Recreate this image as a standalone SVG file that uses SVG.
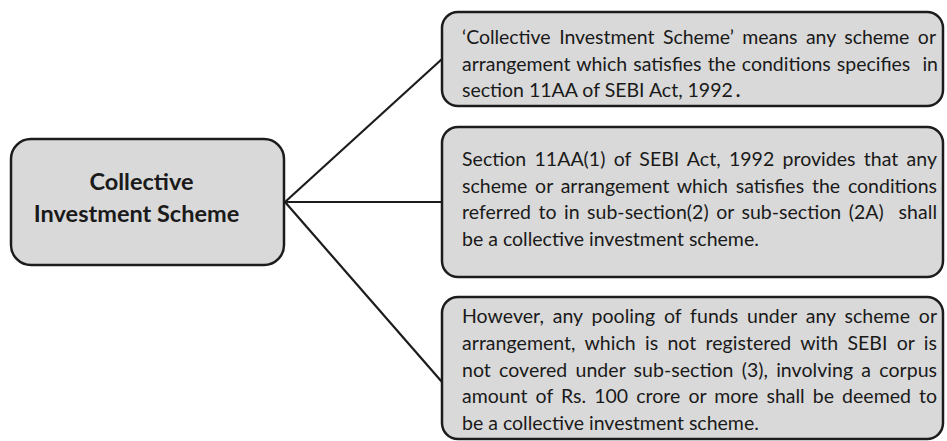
<svg xmlns="http://www.w3.org/2000/svg" width="947" height="441" viewBox="0 0 947 441">
  <style>
    .box { fill: #d9d9d9; stroke: #1c1c1c; stroke-width: 2.5; }
    .link { stroke: #1c1c1c; stroke-width: 2.2; fill: none; }
    .title { font-family: Lato, "Liberation Sans", sans-serif; font-weight: bold; font-size: 23.5px; fill: #1a1a1a; text-anchor: middle; }
    .body { font-family: Lato, "Liberation Sans", sans-serif; font-size: 19.5px; fill: #1a1a1a; }
  </style>
  <rect width="947" height="441" fill="#ffffff"/>

  <!-- connectors from the central box to the three definitions -->
  <g id="connectors">
    <line class="link" x1="285" y1="202" x2="442" y2="59"/>
    <line class="link" x1="285" y1="202" x2="442" y2="202"/>
    <line class="link" x1="285" y1="202" x2="442" y2="382"/>
  </g>

  <g id="cis">
    <rect class="box" x="11" y="139" width="273" height="126" rx="20"/>
    <text class="title" x="141.5" y="190">Collective</text>
    <text class="title" x="136.5" y="221.5">Investment Scheme</text>
  </g>

  <!-- justified lines: extra word spacing, textLength trims the remainder -->
  <g id="definition">
    <rect class="box" x="442" y="12" width="501" height="94" rx="16"/>
    <text class="body" x="462" y="44" word-spacing="3.6" textLength="474" lengthAdjust="spacing">‘Collective Investment Scheme’ means any scheme or</text>
    <text class="body" x="462" y="70.5" word-spacing="1.1" textLength="476" lengthAdjust="spacing">arrangement which satisfies the conditions specifies&#160; in</text>
    <text class="body" x="462" y="97">section 11AA of SEBI Act, 1992<tspan font-weight="bold" dx="3">.</tspan></text>
  </g>

  <g id="section-11aa">
    <rect class="box" x="442" y="127" width="501" height="150" rx="16"/>
    <text class="body" x="462" y="166" word-spacing="3.2" textLength="475" lengthAdjust="spacing">Section 11AA(1) of SEBI Act, 1992 provides that any</text>
    <text class="body" x="462" y="192.5" word-spacing="2.8" textLength="475" lengthAdjust="spacing">scheme or arrangement which satisfies the conditions</text>
    <text class="body" x="462" y="219" word-spacing="2.4" textLength="475" lengthAdjust="spacing">referred to in sub-section(2) or sub-section (2A)&#160; shall</text>
    <text class="body" x="462" y="245.5">be a collective investment scheme.</text>
  </g>

  <g id="deemed-scheme">
    <rect class="box" x="442" y="297" width="501" height="142" rx="16"/>
    <text class="body" x="462" y="323" word-spacing="3.8" textLength="475" lengthAdjust="spacing">However, any pooling of funds under any scheme or</text>
    <text class="body" x="462" y="350" word-spacing="4.2" textLength="475" lengthAdjust="spacing">arrangement, which is not registered with SEBI or is</text>
    <text class="body" x="462" y="376.5" word-spacing="3.1" textLength="475" lengthAdjust="spacing">not covered under sub-section (3), involving a corpus</text>
    <text class="body" x="462" y="403" word-spacing="3.1" textLength="475" lengthAdjust="spacing">amount of Rs. 100 crore or more shall be deemed to</text>
    <text class="body" x="462" y="430">be a collective investment scheme.</text>
  </g>
</svg>
